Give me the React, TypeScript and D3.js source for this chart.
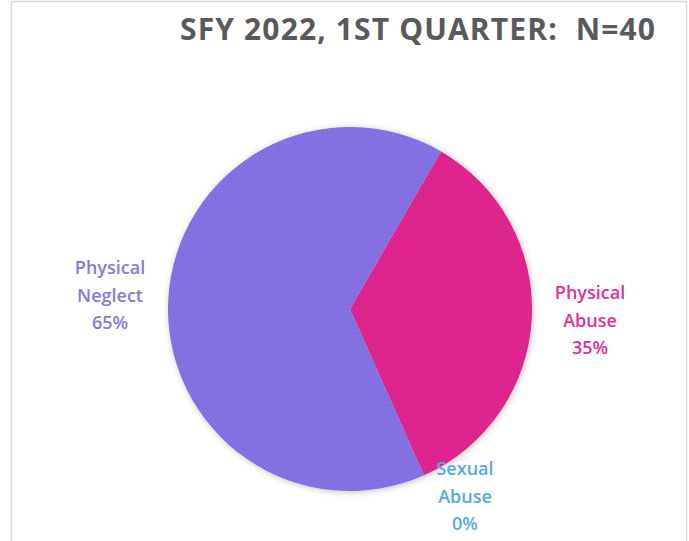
import React from "react";
import * as d3 from "d3";

const categories = ["Physical Abuse", "Sexual Abuse", "Physical Neglect"];
const values = [35, 0, 65];
const labelLines = [["Physical", "Abuse", "35%"], ["Sexual", "Abuse", "0%"], ["Physical", "Neglect", "65%"]];
const sliceColors = ["#e0288e", "#4ea6dc", "#8672e2"];
const dotColors = ["#c81f7c", "#3d8fc4", "#7460d4"];
const labelColors = ["#e0309a", "#55aae0", "#8877e0"];
const title = "SFY 2022, 1ST QUARTER:  N=40";

const W = 689, H = 541;
const cx = 350, cy = 309, R = 182;
const labelPos: [number, number][] = [[590, 299], [465, 475], [110, 274]];

export default function App() {
  const pie = d3.pie<number>().sort(null).value(d => d)
    .startAngle((30 * Math.PI) / 180).endAngle((30 * Math.PI) / 180 + 2 * Math.PI);
  const arcs = pie(values);
  const arc = d3.arc<d3.PieArcDatum<number>>().innerRadius(0).outerRadius(R);
  const font = "'Open Sans', sans-serif";
  return (
    <div style={{ position: "fixed", left: 0, top: 0 }}>
      <svg width={W} height={H} style={{ display: "block" }}>
        <defs>
          {sliceColors.map((c, i) => (
            <pattern key={i} id={`p${i}`} width={4} height={4} patternUnits="userSpaceOnUse">
              <rect width={4} height={4} fill={c} />
              <rect x={1} y={1} width={1} height={1} fill={dotColors[i]} />
              <rect x={3} y={3} width={1} height={1} fill={dotColors[i]} />
            </pattern>
          ))}
          <filter id="sh" x="-20%" y="-20%" width="140%" height="140%">
            <feDropShadow dx="1" dy="1" stdDeviation="3" floodColor="#000" floodOpacity="0.25" />
          </filter>
        </defs>
        <rect x={0} y={0} width={W} height={H} fill="#fff" />
        <path d={`M11.5,${H} V1.5 H686.5 V${H}`} fill="none" stroke="#d9d9d9" strokeWidth={1.5} />
        <text x={180} y={40} fill="#595959" fontFamily={font} style={{ whiteSpace: "pre" }}
          fontWeight="bold" fontSize={30} textLength={475} lengthAdjust="spacing">{title}</text>
        <g transform={`translate(${cx},${cy})`} filter="url(#sh)">
          {arcs.map((a, i) => a.value > 0 ? (
            <path key={categories[i]} d={arc(a) || ""} fill={`url(#p${i})`} />
          ) : null)}
        </g>
        {labelLines.map((lines, i) => (
          <text key={i} textAnchor="middle" fill={labelColors[i]} fontFamily={font}
            fontWeight="600" fontSize={18}>
            {lines.map((l, j) => (
              <tspan key={j} x={labelPos[i][0]} y={labelPos[i][1] + j * 27.5}>{l}</tspan>
            ))}
          </text>
        ))}
      </svg>
    </div>
  );
}
